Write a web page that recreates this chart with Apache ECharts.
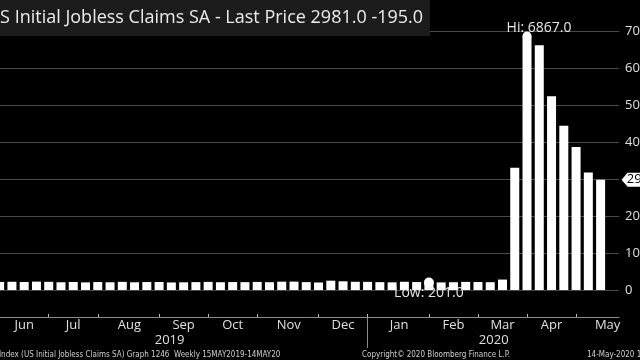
<!DOCTYPE html>
<html>
<head>
<meta charset="utf-8">
<script src="https://cdn.jsdelivr.net/npm/echarts@6/dist/echarts.min.js"></script>
<style>
html,body{margin:0;padding:0;background:#000;}
#chart{width:640px;height:360px;}
</style>
</head>
<body>
<div id="chart"></div>
<script>
// ---- data ----
const weekDates = [
  '2019-05-18','2019-05-25','2019-06-01','2019-06-08','2019-06-15','2019-06-22','2019-06-29',
  '2019-07-06','2019-07-13','2019-07-20','2019-07-27','2019-08-03','2019-08-10','2019-08-17',
  '2019-08-24','2019-08-31','2019-09-07','2019-09-14','2019-09-21','2019-09-28','2019-10-05',
  '2019-10-12','2019-10-19','2019-10-26','2019-11-02','2019-11-09','2019-11-16','2019-11-23',
  '2019-11-30','2019-12-07','2019-12-14','2019-12-21','2019-12-28','2020-01-04','2020-01-11',
  '2020-01-18','2020-01-25','2020-02-01','2020-02-08','2020-02-15','2020-02-22','2020-02-29',
  '2020-03-07','2020-03-14','2020-03-21','2020-03-28','2020-04-04','2020-04-11','2020-04-18',
  '2020-04-25','2020-05-02','2020-05-09'
];
const claims = [
  212, 215, 218, 222, 216, 227, 221,
  209, 216, 206, 215, 209, 220, 209,
  215, 217, 204, 208, 213, 219, 210,
  214, 212, 218, 211, 225, 227, 213,
  203, 252, 235, 222, 220, 212, 207,
  222, 215, 201, 205, 210, 219, 216,
  211, 282, 3307, 6867, 6615, 5237, 4442,
  3867, 3176, 2981
];
const monthNames = ['Jun','Jul','Aug','Sep','Oct','Nov','Dec','Jan','Feb','Mar','Apr','May'];
const monthTickDates = ['2019-06-29','2019-07-27','2019-08-31','2019-09-28','2019-10-26','2019-11-30',
  '2019-12-28','2020-02-01','2020-02-29','2020-03-28','2020-04-25'];
const monthEdgeDates = ['2019-06-01','2020-05-30'];
const yearNames = ['2019','2020'];
const yearBreakDate = '2019-12-28';
const axisStartDate = '2019-05-15';
const axisDays = 371;
const titleText = 'US Initial Jobless Claims SA - Last Price 2981.0 -195.0';
const footLeft = 'Index (US Initial Jobless Claims SA) Graph 1246  Weekly 15MAY2019-14MAY20';
const footMid = 'Copyright\u00A9 2020 Bloomberg Finance L.P.';
const footRight = '14-May-2020 16:21:33';

// ---- helpers ----
function toUTC(s){ const p = s.split('-').map(Number); return Date.UTC(p[0], p[1]-1, p[2]); }
const START = toUTC(axisStartDate);
function dayIndex(s){ return Math.round((toUTC(s) - START) / 86400000); }
const days = [];
for (let i = 0; i < axisDays; i++) days.push(new Date(START + i*86400000).toISOString().slice(0,10));
const weekCats = weekDates.concat(['']);
const tickSet = new Set(monthTickDates.map(dayIndex));
const bounds = [monthEdgeDates[0]].concat(monthTickDates, [monthEdgeDates[1]]).map(dayIndex);
const monthLabelAt = {};
monthNames.forEach((m, i) => { monthLabelAt[Math.round((bounds[i] + bounds[i+1]) / 2)] = m; });
const yb = dayIndex(yearBreakDate);
const yearLabelAt = {};
yearLabelAt[Math.round((0 + yb) / 2)] = yearNames[0];
yearLabelAt[Math.round((yb + axisDays - 1) / 2)] = yearNames[1];
const last = claims.length - 1;

const FONT = '"Open Sans", "Noto Sans", sans-serif';
const FOOT = '8px "DejaVu Sans Condensed", sans-serif';
const chart = echarts.init(document.getElementById('chart'), null, {renderer: 'canvas'});
chart.setOption({
  backgroundColor: '#000',
  animation: false,
  grid: {left: -31, right: 21, top: 31, bottom: 70, outerBoundsMode: 'none', containLabel: false},
  xAxis: [
    {type: 'category', data: weekCats, boundaryGap: true,
     axisLine: {show: false}, axisTick: {show: false}, axisLabel: {show: false}, splitLine: {show: false}},
    {type: 'category', data: days, boundaryGap: true, position: 'bottom', offset: 27,
     axisLine: {show: true, lineStyle: {color: '#8c8c8c', width: 1}},
     axisTick: {show: true, alignWithLabel: true, inside: true, length: 3,
       interval: (i) => tickSet.has(i), lineStyle: {color: '#bdbdbd'}},
     axisLabel: {show: true, interval: (i) => (i in monthLabelAt), formatter: (v, i) => monthLabelAt[i] || '',
       color: '#e0e0e0', fontSize: 13, fontFamily: FONT, margin: 2},
     splitLine: {show: false}},
    {type: 'category', data: days, boundaryGap: true, position: 'bottom', offset: 27,
     axisLine: {show: false},
     axisTick: {show: true, alignWithLabel: true, length: 31,
       interval: (i) => i === yb, lineStyle: {color: '#8c8c8c'}},
     axisLabel: {show: true, interval: (i) => (i in yearLabelAt), formatter: (v, i) => yearLabelAt[i] || '',
       color: '#e0e0e0', fontSize: 13, fontFamily: FONT, margin: 17},
     splitLine: {show: false}}
  ],
  yAxis: {type: 'value', position: 'right', min: 0, max: 7000, interval: 1000,
    axisLine: {show: false}, axisTick: {show: false},
    axisLabel: {color: '#e0e0e0', fontSize: 13, fontFamily: FONT, margin: 6, align: 'left',
      formatter: (v) => String(v)},
    splitLine: {show: true, lineStyle: {color: '#4a4a4a', width: 1}}},
  series: [{
    type: 'bar', xAxisIndex: 0, data: claims, barWidth: 9,
    itemStyle: {color: '#ffffff'},
    markPoint: {
      silent: true,
      data: [
        {type: 'max', symbol: 'circle', symbolSize: 9, itemStyle: {color: '#fff'},
         label: {show: true, position: 'inside', offset: [12, -8], formatter: (p) => 'Hi: ' + p.value.toFixed(1),
           color: '#e8e8e8', fontSize: 14, fontFamily: FONT}},
        {type: 'min', symbol: 'circle', symbolSize: 10, itemStyle: {color: '#fff'},
         label: {show: true, position: 'inside', offset: [0, 10], formatter: (p) => 'Low: ' + p.value.toFixed(1),
           color: '#e8e8e8', fontSize: 14, fontFamily: FONT}},
        {coord: [last, claims[last]], value: claims[last],
         symbol: 'path://M0,7 L6,0 L40,0 L40,14 L6,14 Z', symbolKeepAspect: false,
         symbolSize: [40, 14], symbolOffset: [41, 0], itemStyle: {color: '#fff'},
         label: {show: true, position: 'inside', offset: [0, 0], formatter: (p) => String(p.value),
           color: '#000', fontSize: 13, fontFamily: FONT}}
      ]
    }
  }],
  graphic: [
    {type: 'rect', left: 0, top: 0, shape: {width: 430, height: 36}, style: {fill: '#1c1c1c'}, z: 10},
    {type: 'text', x: -13, y: 18, z: 11, style: {text: titleText, fill: '#ececec', font: '18px ' + FONT, verticalAlign: 'middle'}},
    {type: 'text', x: -1, y: 355, z: 11, style: {text: footLeft, fill: '#d0d0d0', font: FOOT, verticalAlign: 'middle'}},
    {type: 'text', x: 362, y: 355, z: 11, style: {text: footMid, fill: '#d0d0d0', font: FOOT, verticalAlign: 'middle'}},
    {type: 'text', x: 587, y: 355, z: 11, style: {text: footRight, fill: '#d0d0d0', font: FOOT, verticalAlign: 'middle'}}
  ]
});
</script>
</body>
</html>
